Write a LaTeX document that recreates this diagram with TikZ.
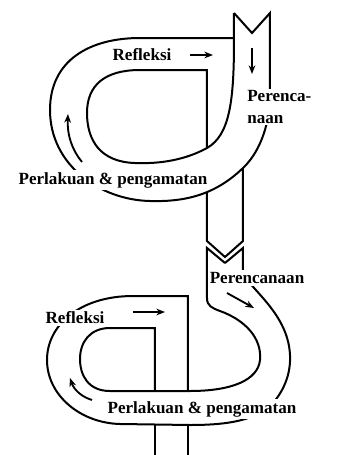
\documentclass[tikz,border=0pt]{standalone}
\usepackage{fontspec}
\setmainfont{Liberation Serif}
\usetikzlibrary{arrows.meta}
\begin{document}
\begin{tikzpicture}[x=0.75pt,y=-0.75pt,
  ribbon/.style={line width=1.5pt, line join=miter},
  flow/.style={line width=1.4pt, -{Stealth[length=6.5pt,width=5pt]}},
  lbl/.style={font=\bfseries\fontsize{12.8}{16}\selectfont, fill=white, inner sep=1.5pt}]
\useasboundingbox (0,0) rectangle (338,455);
\fill[white] (0,0) rectangle (338,455);

% ---------- upper cycle ----------
\draw[ribbon] (234,13) -- (234,40)
  .. controls (234,100) and (230,135) .. (207,148)
  .. controls (185,160) and (160,164) .. (135,163)
  .. controls (100,162) and (87,140) .. (87,113)
  .. controls (87,85) and (105,70) .. (140,70) -- (207,70) -- (207,148);
\draw[ribbon] (234,13) -- (252,33) -- (270,13) -- (270,95)
  .. controls (270,120) and (262,150) .. (243,168)
  .. controls (215,195) and (185,202) .. (150,201)
  .. controls (100,200) and (50,165) .. (50,110)
  .. controls (50,60) and (90,38) .. (140,38) -- (234,38);
\draw[ribbon] (207,192) -- (207,241) -- (225,257) -- (243,241) -- (243,168);

% ---------- lower cycle ----------
\draw[ribbon] (225,263) -- (207,248) -- (207,298)
  .. controls (207,306) and (212,308) .. (220,311)
  .. controls (245,320) and (262,338) .. (260,360)
  .. controls (258,380) and (232,391) .. (190,391) -- (110,391)
  .. controls (88,391) and (80,375) .. (80,359)
  .. controls (80,342) and (90,328) .. (110,328) -- (155,328) -- (155,391);
\draw[ribbon] (225,263) -- (243,248) -- (243,270)
  .. controls (243,285) and (288,310) .. (290,355)
  .. controls (291,375) and (283,392) .. (272,404)
  .. controls (255,420) and (230,425) .. (190,425) -- (120,424)
  .. controls (80,423) and (47,395) .. (47,360)
  .. controls (47,325) and (80,296) .. (133,296) -- (188,296) -- (188,391);
\draw[ribbon] (155,425) -- (155,455);
\draw[ribbon] (188,425) -- (188,455);

% ---------- labels ----------
\node[lbl] (r1) at (142,55) {Refleksi};
\node[lbl, align=left, anchor=west] (p1) at (245,107) {Perenca-\\naan};
\node[lbl] (l1) at (113,180) {Perlakuan \& pengamatan};
\node[lbl] (p2) at (257,278) {Perencanaan};
\node[lbl] (r2) at (75,318) {Refleksi};
\node[lbl] (l2) at (202,409) {Perlakuan \& pengamatan};

% ---------- flow arrows ----------
\coordinate (a1s) at (190,55);  \coordinate (a1e) at (213,55);
\coordinate (a2s) at (252,48);  \coordinate (a2e) at (252,74);
\coordinate (a3s) at (82,162);  \coordinate (a3e) at (68,114);
\coordinate (a4s) at (133,312); \coordinate (a4e) at (165,312);
\coordinate (a5s) at (227,293); \coordinate (a5e) at (254,308);
\coordinate (a6s) at (92,400);  \coordinate (a6e) at (70,378);
\draw[flow] (a1s) -- (a1e);
\draw[flow] (a2s) -- (a2e);
\draw[flow] (a3s) .. controls (72,150) and (67,135) .. (a3e);
\draw[flow] (a4s) -- (a4e);
\draw[flow] (a5s) -- (a5e);
\draw[flow] (a6s) .. controls (82,397) and (74,390) .. (a6e);
\end{tikzpicture}
\end{document}
